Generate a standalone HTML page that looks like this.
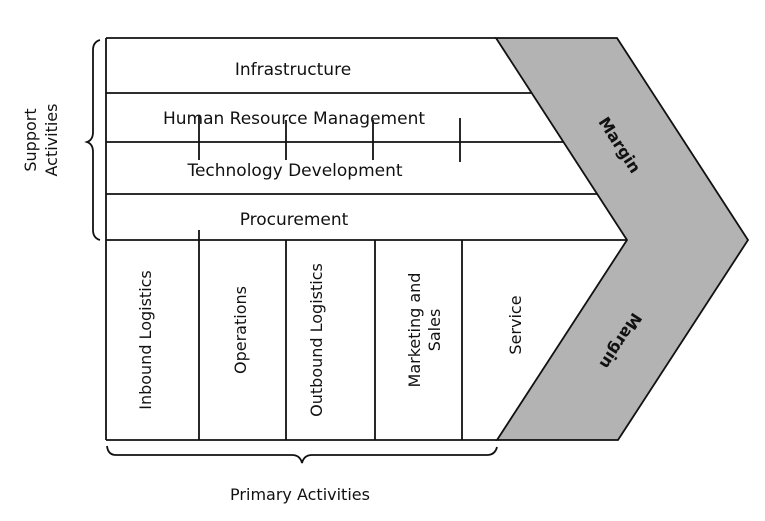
<!DOCTYPE html>
<html><head><meta charset="utf-8"><style>
html,body{margin:0;padding:0;background:#fff;}
svg{display:block;}
text{font-family:"DejaVu Sans","Liberation Sans",sans-serif;fill:#111;}
</style></head><body>
<svg width="765" height="521" viewBox="0 0 765 521" xmlns="http://www.w3.org/2000/svg">
<polygon points="496,38 617,38 748,240 618,440 497,440 627,240" fill="#b3b3b3" stroke="#111" stroke-width="1.8"/>
<g stroke="#111" stroke-width="1.8" fill="none">
<line x1="106" y1="38" x2="496" y2="38"/>
<line x1="106" y1="38" x2="106" y2="440"/>
<line x1="106" y1="440" x2="497" y2="440"/>
<line x1="106" y1="93" x2="531" y2="93"/>
<line x1="106" y1="142" x2="563" y2="142"/>
<line x1="106" y1="194" x2="597" y2="194"/>
<line x1="106" y1="240" x2="627" y2="240"/>
<line x1="199" y1="240" x2="199" y2="440"/>
<line x1="286" y1="240" x2="286" y2="440"/>
<line x1="375" y1="240" x2="375" y2="440"/>
<line x1="462" y1="240" x2="462" y2="440"/>
<line x1="199" y1="116" x2="199" y2="160"/>
<line x1="286" y1="120" x2="286" y2="160"/>
<line x1="373" y1="120" x2="373" y2="160"/>
<line x1="460" y1="118" x2="460" y2="162"/>
<line x1="199" y1="230" x2="199" y2="240"/>
<path d="M100,40 Q93,42 93,50 L93,132 Q93,140 87,142 Q93,144 93,152 L93,230 Q93,238 100,240"/>
<path d="M107,446 Q108,455 116,455 L292,455 Q300,455 302,463 Q304,455 312,455 L487,455 Q495,455 497,447"/>
</g>
<g font-size="16" text-anchor="middle">
<text x="293" y="75" font-size="17">Infrastructure</text>
<text x="294" y="124" font-size="17">Human Resource Management</text>
<text x="295" y="176" font-size="17">Technology Development</text>
<text x="294" y="225" font-size="17">Procurement</text>
<text transform="translate(151,340) rotate(-90)">Inbound Logistics</text>
<text transform="translate(246,330) rotate(-90)">Operations</text>
<text transform="translate(322,340) rotate(-90)">Outbound Logistics</text>
<text transform="translate(420,330) rotate(-90)">Marketing and</text>
<text transform="translate(440,330) rotate(-90)">Sales</text>
<text transform="translate(521,325) rotate(-90)">Service</text>
<text transform="translate(36,140) rotate(-90)">Support</text>
<text transform="translate(57,140) rotate(-90)">Activities</text>
<text x="300" y="500">Primary Activities</text>
<text transform="translate(615,148) rotate(57)" font-weight="bold" font-size="16">Margin</text>
<text transform="translate(616,338) rotate(123)" font-weight="bold" font-size="16">Margin</text>
</g>
</svg>
</body></html>
